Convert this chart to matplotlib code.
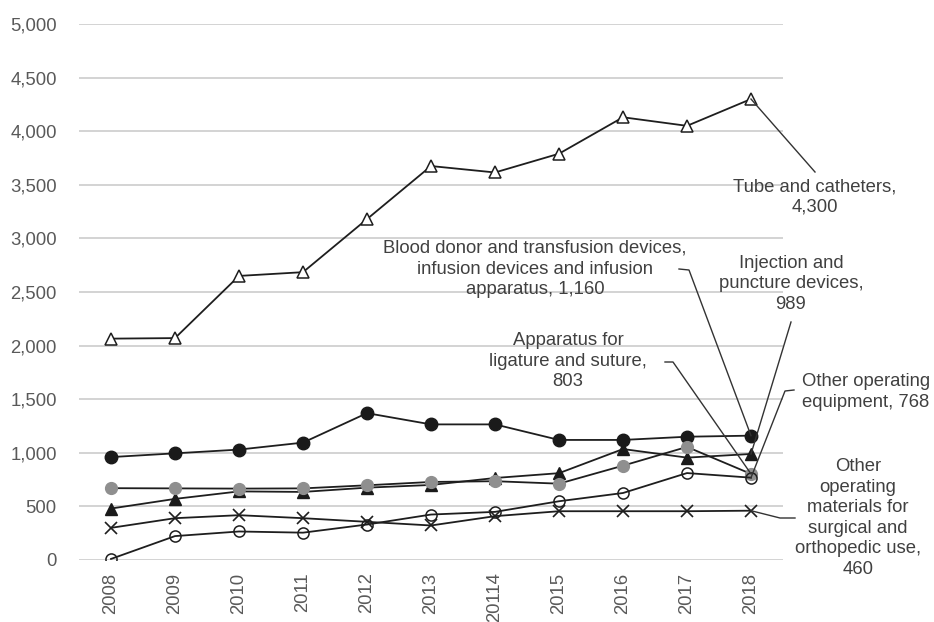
import matplotlib
matplotlib.use("Agg")
import matplotlib.pyplot as plt
from matplotlib.lines import Line2D
from matplotlib.ticker import FuncFormatter

plt.rcParams['font.family'] = ['Liberation Sans', 'DejaVu Sans']

years = ['2008', '2009', '2010', '2011', '2012', '2013', '20114', '2015', '2016', '2017', '2018']
tube = [2065, 2070, 2650, 2685, 3180, 3675, 3615, 3790, 4130, 4050, 4300]
blood = [960, 995, 1030, 1095, 1370, 1265, 1265, 1120, 1120, 1150, 1160]
injection = [480, 570, 640, 635, 675, 700, 765, 810, 1035, 955, 989]
ligature = [670, 668, 666, 668, 697, 728, 735, 712, 880, 1055, 803]
equipment = [10, 223, 266, 255, 331, 424, 449, 548, 625, 811, 768]
materials = [300, 390, 418, 390, 356, 322, 409, 455, 455, 455, 460]

labels = {
    'tube': 'Tube and catheters,\n4,300',
    'blood': 'Blood donor and transfusion devices,\ninfusion devices and infusion\napparatus, 1,160',
    'injection': 'Injection and\npuncture devices,\n989',
    'ligature': 'Apparatus for\nligature and suture,\n803',
    'equipment': 'Other operating\nequipment, 768',
    'materials': 'Other\noperating\nmaterials for\nsurgical and\northopedic use,\n460',
}

W, H = 934, 622
fig = plt.figure(figsize=(W / 100, H / 100), dpi=100)
ax = fig.add_axes([79 / W, 1 - 560 / H, (783 - 79) / W, (560 - 24) / H])

x = list(range(len(years)))
line_col = '#1e1e1e'
lw = 1.3

ax.plot(x, tube, color=line_col, lw=lw, marker='^', ms=8.5, mfc='white',
        mec=line_col, mew=1.1, zorder=5)
ax.plot(x, blood, color=line_col, lw=lw, marker='o', ms=9, mfc='#1a1a1a',
        mec='#1a1a1a', zorder=5)
ax.plot(x, injection, color=line_col, lw=lw, marker='^', ms=8.5, mfc='#1a1a1a',
        mec='#1a1a1a', zorder=5)
ax.plot(x, ligature, color=line_col, lw=lw, marker='o', ms=8.5, mfc='#8f8f8f',
        mec='#8f8f8f', zorder=6)
ax.plot(x, materials, color=line_col, lw=lw, marker='x', ms=8.5, mew=1.2,
        mec=line_col, zorder=5)
ax.plot(x, equipment, color=line_col, lw=lw, marker='o', ms=8, mfc='none',
        mec=line_col, mew=1.1, zorder=6)

ax.set_xlim(-0.5, len(years) - 0.5)
ax.set_ylim(0, 5000)
ax.set_yticks(range(0, 5001, 500))
ax.yaxis.set_major_formatter(FuncFormatter(lambda v, p: f'{int(v):,}'))
ax.set_xticks(x)
ax.set_xticklabels(years, rotation=90, va='top', ha='center')
ax.tick_params(axis='both', length=0, labelsize=13.3, labelcolor='#595959')
ax.tick_params(axis='y', pad=16)
ax.tick_params(axis='x', pad=9)
ax.grid(axis='y', color='#c8c8c8', lw=1.1, zorder=0)
for s in ax.spines.values():
    s.set_visible(False)

text_kw = dict(fontsize=13.3, color='#404040', ha='center', va='center',
               multialignment='center', linespacing=1.27)


def px(p):
    return (p[0], H - p[1])


def leader(key, values, path_px, text_xy):
    """Draw a label at pixel position and a leader line ending at the 2018 point."""
    last = len(years) - 1
    pts = [fig.transFigure.inverted().transform(px(p)) for p in path_px]
    end_disp = ax.transData.transform((last, values[last]))
    end = fig.transFigure.inverted().transform(end_disp)
    xs = [p[0] for p in pts] + [end[0]]
    ys = [p[1] for p in pts] + [end[1]]
    fig.add_artist(Line2D(xs, ys, transform=fig.transFigure, color='#333333',
                          lw=1.0, zorder=3))
    fig.text(text_xy[0] / W, 1 - text_xy[1] / H, labels[key], **text_kw)


leader('tube', tube, [(815, 172)], (815, 197))
leader('blood', blood, [(679, 269), (689, 270)], (535, 269))
leader('injection', injection, [(791, 322)], (791, 284))
leader('ligature', ligature, [(665, 362), (673, 362)], (568, 361))
leader('equipment', equipment, [(794, 390), (785, 391)], (866, 392))
leader('materials', materials, [(795, 518), (780, 518)], (858, 518))

fig.savefig('out.png', dpi=100, facecolor='white')
